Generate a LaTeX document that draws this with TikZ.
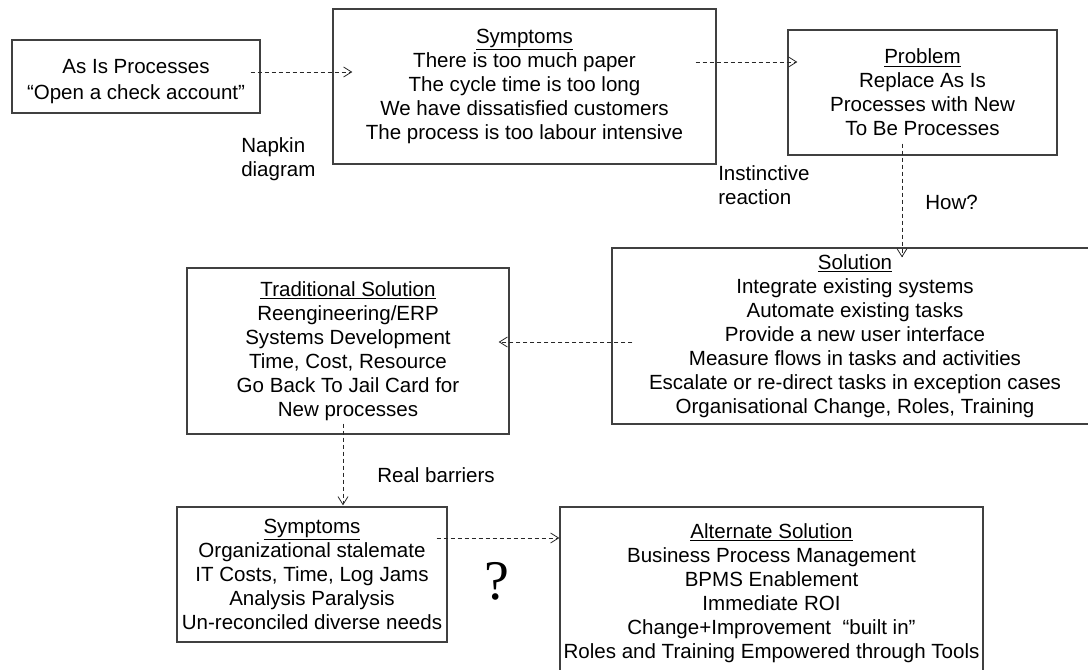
\documentclass[tikz,border=0pt]{standalone}
\usepackage{fontspec}
\setmainfont{Liberation Sans}
\newfontfamily\qfont{Liberation Serif}
\usetikzlibrary{arrows.meta, calc}
\definecolor{boxgray}{RGB}{64,64,64}
\definecolor{edgegray}{RGB}{40,40,40}

\begin{document}
\begin{tikzpicture}[
    x=0.75pt, y=-0.75pt,
    every node/.style={font=\fontsize{15.4}{18}\selectfont},
    box/.style={draw=boxgray, line width=1pt, align=center, inner sep=0pt},
    flow/.style={edgegray, line width=0.6pt, dash pattern=on 3pt off 2.25pt, -{Straight Barb[length=6pt, width=7.5pt]}},
    note/.style={anchor=base west, align=left, inner sep=0pt}
]
\clip (0,0) rectangle (1088,670);

% Top row
\node[box, minimum width=186pt, minimum height=54.75pt] (asis) at (136,76.5)
    {\rule{0pt}{18pt}As Is Processes\\[2pt]“Open a check account”};
\node[box, minimum width=287.25pt, minimum height=116.25pt] (sympA) at (524.5,86.5)
    {\underline{Symptoms}\\There is too much paper\\The cycle time is too long\\We have dissatisfied customers\\The process is too labour intensive};
\node[box, minimum width=201.75pt, minimum height=93.75pt] (prob) at (922.5,92.5)
    {\underline{Problem}\\Replace As Is\\Processes with New\\To Be Processes};

% Middle row
\node[box, minimum width=364.5pt, minimum height=132pt] (sol) at (855,336)
    {\underline{Solution}\\Integrate existing systems\\Automate existing tasks\\Provide a new user interface\\Measure flows in tasks and activities\\Escalate or re-direct tasks in exception cases\\Organisational Change, Roles, Training};
\node[box, minimum width=241.5pt, minimum height=124.5pt] (trad) at (348,351)
    {\underline{Traditional Solution}\\Reengineering/ERP\\Systems Development\\Time, Cost, Resource\\Go Back To Jail Card for\\New processes};

% Bottom row
\node[box, minimum width=202.5pt, minimum height=101.25pt] (sympB) at (312,574.5)
    {\underline{Symptoms}\\Organizational stalemate\\IT Costs, Time, Log Jams\\Analysis Paralysis\\Un-reconciled diverse needs};
\node[box, minimum width=317.25pt, minimum height=129pt] (alt) at (771.5,593)
    {\underline{Alternate Solution}\\Business Process Management\\BPMS Enablement\\Immediate ROI\\Change+Improvement\ \ “built in”\\Roles and Training Empowered through Tools};

% Side notes
\node[note] (napkin) at (241,177) {Napkin\\diagram};
\node[note] (instinct) at (718,205) {Instinctive\\reaction};
\node[note] (how) at (925,210) {How?};
\node[note] (barriers) at (377,482) {Real barriers};
\node[font=\qfont\fontsize{42}{48}\selectfont, inner sep=0pt] (qmark) at (497,581) {?};

% Dashed flows
\draw[flow] ([shift={(-10,-4.5)}]asis.east) -- ([shift={(20,-14.5)}]sympA.west);
\draw[flow] ([shift={(-21,-24.5)}]sympA.east) -- ([shift={(10,-30.5)}]prob.west);
\draw[flow] ([shift={(-20.5,-12)}]prob.south) -- ([shift={(47,10)}]sol.north);
\draw[flow] ([shift={(21,6)}]sol.west) -- ([shift={(-11,-9)}]trad.east);
\draw[flow] ([shift={(-5,-11)}]trad.south) -- ([shift={(31,-1)}]sympB.north);
\draw[flow] ([shift={(-11,-36.5)}]sympB.east) -- ([shift={(0,-55)}]alt.west);

\end{tikzpicture}
\end{document}
